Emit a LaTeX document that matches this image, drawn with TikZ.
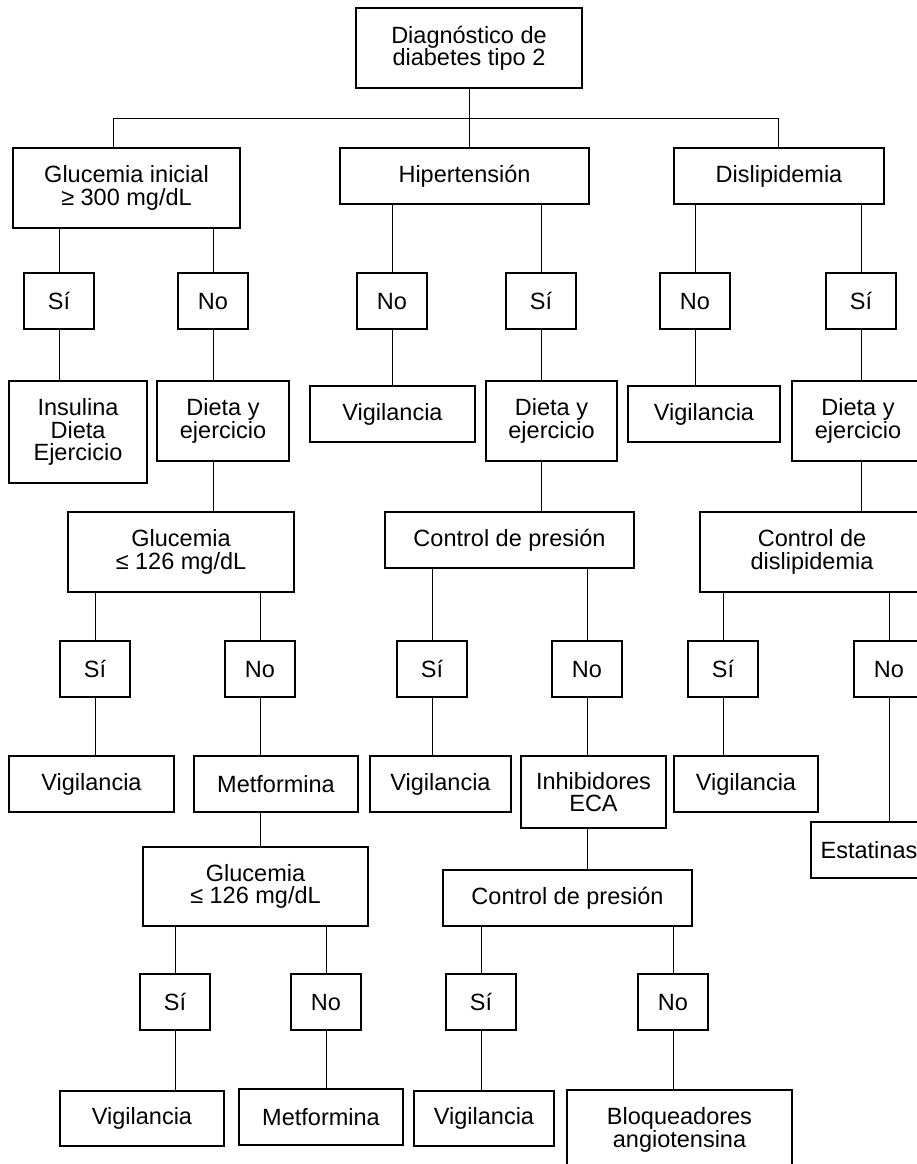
\documentclass[tikz,border=0pt]{standalone}
\usepackage{fontspec}
\setmainfont{Liberation Sans}
\tikzset{ %
  ,every node/.style={font=\fontsize{23.5}{22.3}\selectfont}
  ,box/.style={draw, line width=1.1pt, inner sep=0, align=center}
  ,ans/.style={box, minimum width=70pt, minimum height=56pt, text height=17pt, text depth=0pt}
  ,sz/.style 2 args={minimum width=#1pt, minimum height=#2pt}
  ,link/.style={line width=1pt}
}
\begin{document}
\begin{tikzpicture}[x=1pt, y=-1pt]
  \useasboundingbox (0,0) rectangle (917,1164);
  \clip (0,0) rectangle (917,1164);
  % top and first level
  \draw
  node[box, sz={226}{80}] (root) at (469,48) {Diagnóstico de\\diabetes tipo 2}
  node[box, sz={227}{80}] (gini) at (126.5,188) {Glucemia inicial\\≥ 300 mg/dL}
  node[box, sz={249}{56}] (hip) at (464.5,176) {Hipertensión}
  node[box, sz={210}{56}] (dis) at (779,176) {Dislipidemia};
  \coordinate (busl) at (113,118);
  \coordinate (busr) at (778,118);
  % answers and results
  \draw
  node[ans] (ginisi) at (59,301) {Sí}
  node[ans] (ginino) at (213,301) {No}
  node[ans] (hipno) at (392,301) {No}
  node[ans] (hipsi) at (541,301) {Sí}
  node[ans] (disno) at (695,301) {No}
  node[ans] (dissi) at (861,301) {Sí}
  node[box, sz={138}{102}] (insul) at (78,432) {Insulina\\Dieta\\Ejercicio}
  node[box, sz={132}{80}] (dietA) at (223,421) {Dieta y\\ejercicio}
  node[box, sz={165}{56}] (vigA) at (392.5,414) {Vigilancia}
  node[box, sz={131}{80}] (dietB) at (551.5,421) {Dieta y\\ejercicio}
  node[box, sz={152}{56}] (vigB) at (704,414) {Vigilancia}
  node[box, sz={132}{80}] (dietC) at (858,421) {Dieta y\\ejercicio};
  \draw
  node[box, sz={226}{80}] (glucA) at (181,552) {Glucemia\\≤ 126 mg/dL}
  node[box, sz={249}{56}] (presA) at (509.5,540) {Control de presión}
  node[box, sz={224}{80}] (ctrlD) at (812,552) {Control de\\dislipidemia}
  node[ans] (gAsi) at (95,669) {Sí}
  node[ans] (gAno) at (260,669) {No}
  node[ans] (pAsi) at (432,669) {Sí}
  node[ans] (pAno) at (587,669) {No}
  node[ans] (cDsi) at (723,669) {Sí}
  node[ans] (cDno) at (889,669) {No}
  node[box, sz={165}{56}] (vigC) at (91.5,784) {Vigilancia}
  node[box, sz={164}{56}] (metA) at (276,784) {Metformina}
  node[box, sz={141}{56}] (vigD) at (440.5,784) {Vigilancia}
  node[box, sz={145}{72}] (inhib) at (593.5,792) {Inhibidores\\ECA}
  node[box, sz={144}{56}] (vigE) at (746,784) {Vigilancia}
  node[box, sz={116}{56}] (estat) at (869,850) {Estatinas};
  \draw
  node[box, sz={225}{79}] (glucB) at (255.5,886.5) {Glucemia\\≤ 126 mg/dL}
  node[box, sz={249}{56}] (presB) at (567.5,898) {Control de presión}
  node[ans] (gBsi) at (175,1002) {Sí}
  node[ans] (gBno) at (326,1002) {No}
  node[ans] (pBsi) at (481,1002) {Sí}
  node[ans] (pBno) at (673,1002) {No}
  node[box, sz={164}{55}] (vigF) at (142,1118.5) {Vigilancia}
  node[box, sz={164}{56}] (metB) at (321,1117) {Metformina}
  node[box, sz={140}{55}] (vigG) at (484,1118.5) {Vigilancia}
  node[box, sz={225}{80}] (bloq) at (679.5,1130) {Bloqueadores\\angiotensina};
  % connectors
  \draw [link] (busl |- gini.north) -- (busl) -- (busr) -- (busr |- dis.north)
    (root.south) -- (root.south |- hip.north);
  \draw [link] (ginisi.north) -- (ginisi.north |- gini.south)
    (ginino.north) -- (ginino.north |- gini.south)
    (hipno.north) -- (hipno.north |- hip.south)
    (hipsi.north) -- (hipsi.north |- hip.south)
    (disno.north) -- (disno.north |- dis.south)
    (dissi.north) -- (dissi.north |- dis.south);
  \draw [link] (ginisi.south) -- (ginisi.south |- insul.north)
    (ginino.south) -- (ginino.south |- dietA.north)
    (hipno.south) -- (hipno.south |- vigA.north)
    (hipsi.south) -- (hipsi.south |- dietB.north)
    (disno.south) -- (disno.south |- vigB.north)
    (dissi.south) -- (dissi.south |- dietC.north);
  \draw [link] (ginino.south |- dietA.south) -- (ginino.south |- glucA.north)
    (hipsi.south |- dietB.south) -- (hipsi.south |- presA.north)
    (dissi.south |- dietC.south) -- (dissi.south |- ctrlD.north);
  \draw [link] (gAsi.north) -- (gAsi.north |- glucA.south)
    (gAno.north) -- (gAno.north |- glucA.south)
    (pAsi.north) -- (pAsi.north |- presA.south)
    (pAno.north) -- (pAno.north |- presA.south)
    (cDsi.north) -- (cDsi.north |- ctrlD.south)
    (cDno.north) -- (cDno.north |- ctrlD.south);
  \draw [link] (gAsi.south) -- (gAsi.south |- vigC.north)
    (gAno.south) -- (gAno.south |- metA.north)
    (pAsi.south) -- (pAsi.south |- vigD.north)
    (pAno.south) -- (pAno.south |- inhib.north)
    (cDsi.south) -- (cDsi.south |- vigE.north)
    (cDno.south) -- (cDno.south |- estat.north);
  \draw [link] (gAno.south |- metA.south) -- (gAno.south |- glucB.north)
    (pAno.south |- inhib.south) -- (pAno.south |- presB.north);
  \draw [link] (gBsi.north) -- (gBsi.north |- glucB.south)
    (gBno.north) -- (gBno.north |- glucB.south)
    (pBsi.north) -- (pBsi.north |- presB.south)
    (pBno.north) -- (pBno.north |- presB.south);
  \draw [link] (gBsi.south) -- (gBsi.south |- vigF.north)
    (gBno.south) -- (gBno.south |- metB.north)
    (pBsi.south) -- (pBsi.south |- vigG.north)
    (pBno.south) -- (pBno.south |- bloq.north);
\end{tikzpicture}
\end{document}
